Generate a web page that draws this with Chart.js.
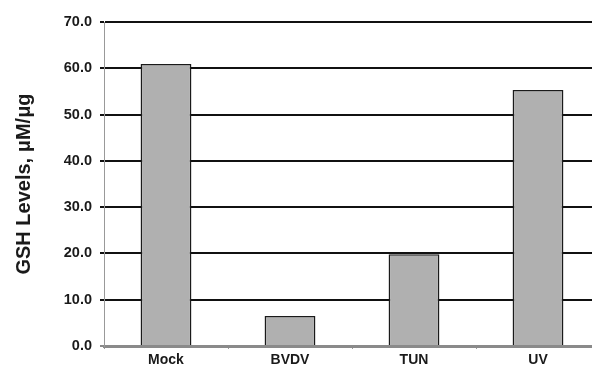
<!DOCTYPE html>
<html>
<head>
<meta charset="utf-8">
<script src="https://cdn.jsdelivr.net/npm/chart.js@4.4.1/dist/chart.umd.min.js"></script>
<style>
	html, body { margin: 0; padding: 0; background: #fff; overflow: hidden; }
	#wrap { width: 600px; height: 368px; }
</style>
</head>
<body>
<div id="wrap"><canvas id="gshChart" width="600" height="368"></canvas></div>
<script>
// 데이터
const categories = ["Mock", "BVDV", "TUN", "UV"];
const gshLevels = [60.9, 6.5, 19.8, 55.3];
const yTicks = [0, 10, 20, 30, 40, 50, 60, 70];

const ctx = document.getElementById("gshChart").getContext("2d");
const myChart = new Chart(ctx, {
	type: "bar",
	data: {
		labels: categories,
		datasets: [{
			label: "GSH",
			data: gshLevels,
			backgroundColor: "#b0b0b0",
			borderColor: "#1a1a1a",
			borderWidth: 1.5,
			barPercentage: 0.41,
			categoryPercentage: 1
		}]
	},
	options: {
		responsive: false,
		animation: false,
		layout: { padding: { top: 22, right: 0, left: 0, bottom: 0 } },
		plugins: {
			legend: { display: false },
			tooltip: { enabled: false }
		},
		scales: {
			x: {
				grid: {
					display: true,
					offset: true,
					drawOnChartArea: false,
					tickLength: 3,
					color: "#999"
				},
				border: { color: "#8a8a8a", width: 3 },
				ticks: {
					color: "#1a1a1a",
					padding: 3,
					font: { family: "Liberation Sans, Arial, sans-serif", size: 14, weight: "bold" }
				},
				afterFit: (scale) => { scale.height = 22; }
			},
			y: {
				min: 0,
				max: 70,
				afterBuildTicks: (scale) => {
					scale.ticks = yTicks.map(v => ({ value: v }));
				},
				grid: {
					color: (c) => c.tick && c.tick.value === 0 ? "#8a8a8a" : "#111",
					lineWidth: 2,
					tickLength: 4
				},
				border: { color: "#999", width: 1 },
				ticks: {
					color: "#1a1a1a",
					padding: 8,
					callback: (v) => Number(v).toFixed(1),
					font: { family: "Liberation Sans, Arial, sans-serif", size: 14.5, weight: "bold" }
				},
				title: {
					display: true,
					text: "GSH Levels, μM/μg",
					color: "#1a1a1a",
					padding: { top: 12, bottom: 0 },
					font: { family: "Liberation Sans, Arial, sans-serif", size: 20, weight: "bold" }
				},
				afterFit: (scale) => { scale.width = 104; }
			}
		}
	}
});
</script>
</body>
</html>
